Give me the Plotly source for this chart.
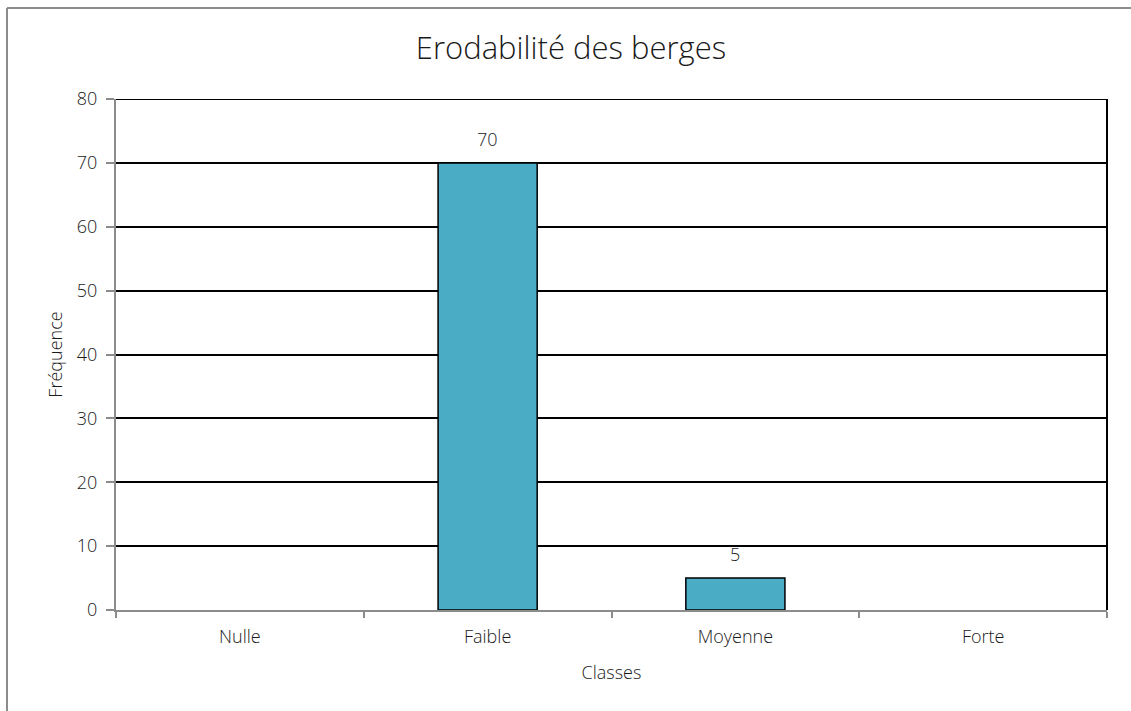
import plotly.graph_objects as go

# Bank erodibility classes and their frequencies
classes = ["Nulle", "Faible", "Moyenne", "Forte"]
frequences = [0, 70, 5, 0]
y_ticks = [0, 10, 20, 30, 40, 50, 60, 70, 80]

W, H = 1131, 711
M_L, M_R, M_T, M_B = 116, 24, 99, 101
plot_w = W - M_L - M_R
plot_h = H - M_T - M_B

FONT = "Open Sans"
TXT = "#1a1a1a"
LIGHT = 300


def f(size):
    return dict(family=FONT, size=size, color=TXT, weight=LIGHT)


fig = go.Figure()
fig.add_trace(go.Bar(
    x=classes,
    y=frequences,
    width=0.4,
    marker=dict(color="#4BACC6",
                line=dict(color="black",
                          width=[1.5 if v else 0 for v in frequences])),
    hoverinfo="x+y",
))

# value labels above non-zero bars
for c, v in zip(classes, frequences):
    if v:
        fig.add_annotation(x=c, y=v, text=str(v), showarrow=False,
                           yanchor="middle", yshift=24, font=f(18))

# top gridline and right edge of the plotting area
fig.add_shape(type="line", xref="paper", yref="y", x0=0, x1=1, y0=80, y1=80,
              line=dict(color="black", width=2))
fig.add_shape(type="line", xref="paper", yref="y", x0=1, x1=1, y0=0, y1=80,
              line=dict(color="black", width=2))

# outer chart frame: left and top edges
fx0 = (7 - M_L) / plot_w
fy1 = 1 + (M_T - 8) / plot_h
fig.add_shape(type="line", xref="paper", yref="paper",
              x0=fx0, x1=fx0, y0=-(M_B + 20) / plot_h, y1=fy1,
              line=dict(color="#8c8c8c", width=2))
fig.add_shape(type="line", xref="paper", yref="paper",
              x0=fx0, x1=(W + 20 - M_L) / plot_w, y0=fy1, y1=fy1,
              line=dict(color="#8c8c8c", width=2))

fig.update_layout(
    width=W, height=H,
    margin=dict(l=M_L, r=M_R, t=M_T, b=M_B),
    paper_bgcolor="white", plot_bgcolor="white",
    showlegend=False,
    font=f(18),
    title=dict(text="Erodabilité des berges", x=571 / W, xanchor="center",
               y=1 - 48 / H, yanchor="middle", font=f(31)),
)
fig.update_xaxes(
    type="category", range=[-0.5, 3.5],
    showline=True, linecolor="#8c8c8c", linewidth=2,
    ticks="outside", tickson="boundaries", ticklen=6, tickcolor="#8c8c8c", tickwidth=1.5,
    ticklabelstandoff=9,
    showgrid=False, zeroline=False,
    tickfont=f(18),
    title=dict(text="Classes", standoff=20, font=f(18)),
)
fig.update_yaxes(
    range=[0, 80], tickvals=y_ticks,
    showline=True, linecolor="#8c8c8c", linewidth=2,
    ticks="outside", ticklen=8, tickcolor="#8c8c8c", tickwidth=1.5,
    ticklabelstandoff=5,
    showgrid=True, gridcolor="black", gridwidth=1.5, zeroline=False,
    tickfont=f(18),
    title=dict(text="Fréquence", standoff=10, font=f(18)),
)

fig.write_html("out.html")
